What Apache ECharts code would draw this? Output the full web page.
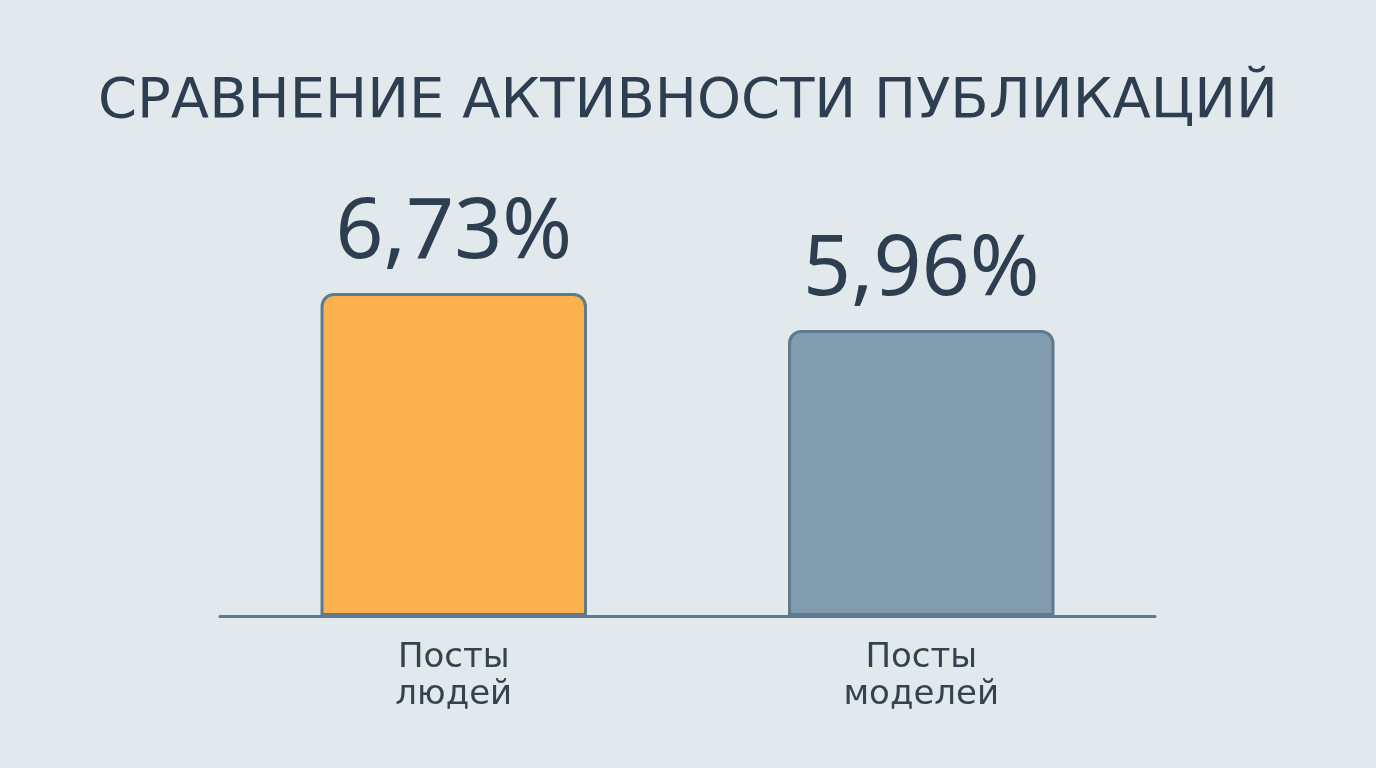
<!DOCTYPE html>
<html>
<head>
<meta charset="utf-8">
<script src="https://cdn.jsdelivr.net/npm/echarts@6/dist/echarts.min.js"></script>
<style>
  html, body { margin: 0; padding: 0; background: #e2e9ec; }
  #chart { width: 1376px; height: 768px; }
</style>
</head>
<body>
<div id="chart"></div>
<script>
let myChart = echarts.init(document.getElementById('chart'));

// данные
const categories = ['Посты\nлюдей', 'Посты\nмоделей'];
const values = [6.73, 5.96];
const barColors = ['#fbb24e', '#819caf'];

const option = {
  backgroundColor: '#e2e9ec',
  title: {
    text: 'СРАВНЕНИЕ АКТИВНОСТИ ПУБЛИКАЦИЙ',
    left: 'center',
    top: 69,
    textStyle: {
      fontFamily: 'DejaVu Sans',
      fontWeight: 'normal',
      fontSize: 56,
      color: '#2d3e50'
    }
  },
  grid: {
    left: 220,
    right: 221,
    top: 136,
    bottom: 152
  },
  xAxis: {
    type: 'category',
    data: categories,
    axisLine: {
      lineStyle: { color: '#5f7a8c', width: 3 }
    },
    axisTick: { show: false },
    axisLabel: {
      margin: 24,
      fontFamily: 'DejaVu Sans',
      fontSize: 34,
      lineHeight: 37,
      color: '#34434f'
    }
  },
  yAxis: {
    type: 'value',
    min: 0,
    max: 10,
    show: false,
    splitLine: { show: false }
  },
  series: [
    {
      type: 'bar',
      barWidth: '57%',
      data: values.map(function (v, i) {
        return {
          value: v,
          itemStyle: { color: barColors[i] }
        };
      }),
      itemStyle: {
        borderColor: '#5f7a8c',
        borderWidth: 3,
        borderRadius: [12, 12, 0, 0]
      },
      label: {
        show: true,
        position: 'top',
        distance: 17,
        fontFamily: 'Noto Sans',
        fontSize: 84,
        color: '#2d3e50',
        formatter: function (p) {
          return p.value.toFixed(2).replace('.', ',') + '%';
        }
      }
    }
  ]
};

myChart.setOption(option);
</script>
</body>
</html>
